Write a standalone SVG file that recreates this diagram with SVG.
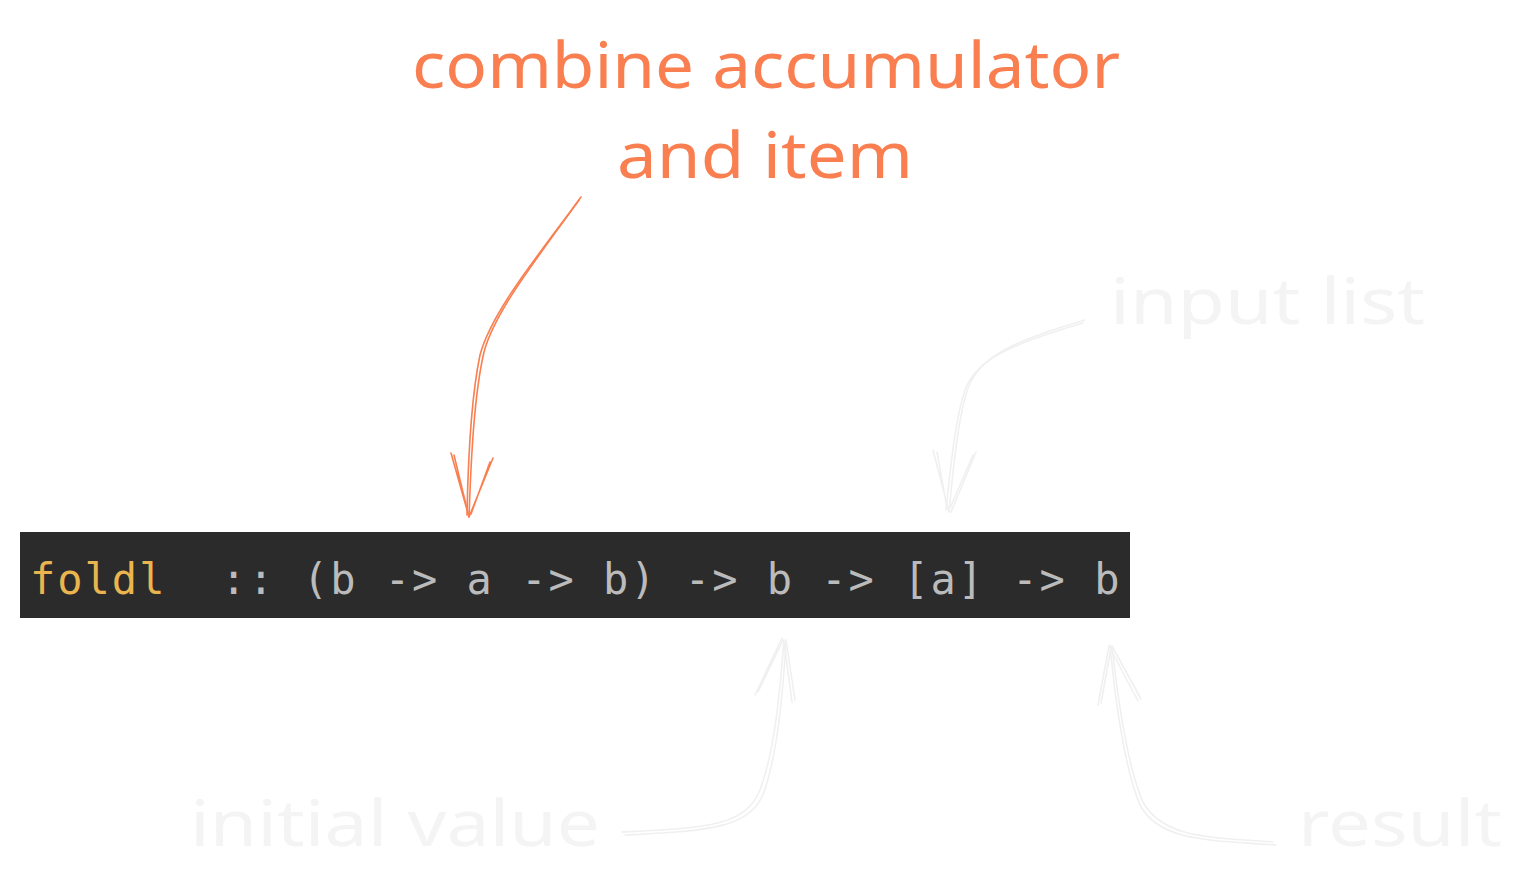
<svg xmlns="http://www.w3.org/2000/svg" width="1531" height="892" viewBox="0 0 1531 892">
<style>
.hand{font-family:"Noto Sans","Liberation Sans",sans-serif;font-size:64px;}
.orange{fill:#fa7f50;}
.faint{fill:#f4f4f4;}
.code{font-family:"DejaVu Sans Mono","Liberation Mono",monospace;font-size:42px;letter-spacing:2px;}
.ao{fill:none;stroke:#fa7f50;stroke-width:1.6;stroke-linecap:round;}
.af{fill:none;stroke:#f0f0f0;stroke-width:1.6;stroke-linecap:round;}
</style>
<rect width="1531" height="892" fill="#ffffff"/>
<g id="code">
<rect x="20" y="532" width="1110" height="86" fill="#2b2b2b"/>
<text class="code" x="30" y="594"><tspan fill="#eab54e">foldl</tspan><tspan fill="#bbbbbb" xml:space="preserve">  :: (b -&gt; a -&gt; b) -&gt; b -&gt; [a] -&gt; b</tspan></text>
</g>
<g id="label-combine">
<text class="hand orange" x="412" y="88" textLength="708" lengthAdjust="spacingAndGlyphs">combine accumulator</text>
<text class="hand orange" x="617" y="178" textLength="296" lengthAdjust="spacingAndGlyphs">and item</text>
</g>
<g id="label-input">
<text class="hand faint" x="1110" y="324" textLength="315" lengthAdjust="spacingAndGlyphs">input list</text>
</g>
<g id="label-initial">
<text class="hand faint" x="190" y="846" textLength="410" lengthAdjust="spacingAndGlyphs">initial value</text>
</g>
<g id="label-result">
<text class="hand faint" x="1298" y="846" textLength="204" lengthAdjust="spacingAndGlyphs">result</text>
</g>
<g id="connectors">
<path class="ao" d="M581,197 C540,255 495,310 484,352 C474,395 471,460 469,517"/>
<path class="ao" d="M579,200 C536,258 491,313 480,355 C471,398 468,462 467,515"/>
<path class="ao" d="M451,453 L469,517 M454,455 L468,513 M493,458 L469,517 M490,462 L471,514"/>
<path class="af" d="M1085,320 C1010,342 980,357 968,388 C958,418 953,470 949,512"/>
<path class="af" d="M1083,323 C1008,345 976,360 965,390 C955,420 950,472 946,510"/>
<path class="af" d="M933,450 L949,512 M937,452 L947,508 M976,452 L951,512 M973,455 L950,508"/>
<path class="af" d="M622,832 C700,828 745,828 760,790 C775,750 780,690 784,640"/>
<path class="af" d="M625,835 C703,831 750,830 764,792 C778,752 783,690 786,642"/>
<path class="af" d="M755,695 L782,638 M758,692 L783,640 M795,700 L786,640 M792,702 L784,642"/>
<path class="af" d="M1276,845 C1210,840 1160,842 1140,805 C1125,770 1115,700 1110,645"/>
<path class="af" d="M1273,842 C1208,837 1163,838 1143,802 C1128,768 1118,700 1112,647"/>
<path class="af" d="M1098,705 L1109,646 M1101,703 L1111,648 M1141,699 L1112,646 M1138,701 L1110,648"/>
</g>
</svg>
